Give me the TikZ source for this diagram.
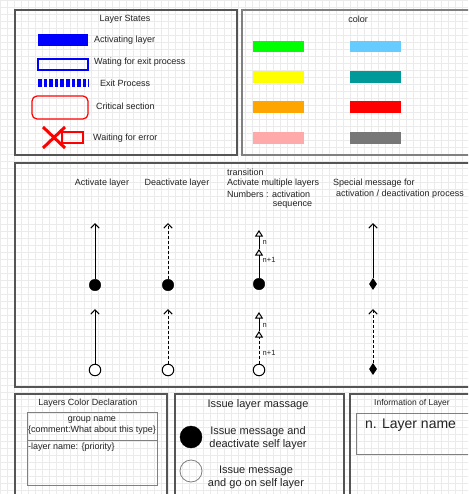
\documentclass[tikz,border=0pt]{standalone}
\usepackage{fontspec}
\setmainfont{Liberation Sans}
\usetikzlibrary{arrows.meta,shapes.geometric}
\definecolor{txt}{HTML}{222222}
\definecolor{frm}{HTML}{555555}
\definecolor{cgreen}{HTML}{00FF00}
\definecolor{cblue}{HTML}{66CCFF}
\definecolor{cyellow}{HTML}{FFFF00}
\definecolor{cteal}{HTML}{009999}
\definecolor{corange}{HTML}{FFA500}
\definecolor{cred}{HTML}{FF0000}
\definecolor{cpink}{HTML}{FFAAAA}
\definecolor{cgray}{HTML}{777777}
\begin{document}
\begin{tikzpicture}[x=1pt,y=-1pt,
  every node/.style={text=txt},
  frame/.style={draw=frm, line width=1.3pt},
  inbox/.style={draw=gray, line width=0.8pt},
  lbl/.style={inner sep=0pt, anchor=west, font=\fontsize{9}{10.5}\selectfont},
  ttl/.style={inner sep=0pt, font=\fontsize{9}{10.5}\selectfont},
  bar/.style={minimum width=51pt, minimum height=11.5pt, inner sep=0pt, draw=none},
  arr/.style={line width=1pt, -{Straight Barb[length=4.5pt,width=8.5pt,line width=1pt]}},
  dsh/.style={dash pattern=on 3pt off 2pt},
  tri/.style={line width=1pt, -{Triangle[open,length=6.5pt,width=8pt,line width=1pt]}},
  fdot/.style={circle, fill=black, draw=black, minimum size=11.5pt, inner sep=0pt},
  odot/.style={circle, fill=white, draw=black, line width=1pt, minimum size=11.5pt, inner sep=0pt},
  dia/.style={diamond, fill=black, minimum width=8pt, minimum height=12pt, inner sep=0pt},
  small/.style={inner sep=0pt, anchor=west, font=\fontsize{7.5}{9}\selectfont}
]
\useasboundingbox (0,0) rectangle (468,494);
\clip (0,0) rectangle (468,494);
% background grid
\foreach \i in {0,7,...,469} \draw[black!8, line width=0.4pt] (\i,0) -- (\i,494);
\foreach \j in {0,7,...,494} \draw[black!8, line width=0.4pt] (0,\j) -- (468,\j);

% ---------- Layer States ----------
\draw[frame] (15,10) rectangle (237,155);
\node[ttl] (lsT) at (125,19) {Layer States};
\node[bar, fill=blue, minimum width=50pt, minimum height=12pt] (s1) at (63,40) {};
\node[lbl] (s1l) at (94,40.5) {Activating layer};
\node[draw=blue, line width=1.2pt, minimum width=50pt, minimum height=11pt, inner sep=0pt] (s2) at (63,64.5) {};
\node[lbl] (s2l) at (94,62.5) {Wating for exit process};
\draw[blue, line width=8pt, dash pattern=on 3.6pt off 2pt] (38,83) -- (89,83);
\node[lbl] (s3l) at (100,83.5) {Exit Process};
\node[draw=red, line width=1.2pt, rounded corners=5pt, minimum width=56pt, minimum height=23pt, inner sep=0pt] (s4) at (60,107.5) {};
\node[lbl] (s4l) at (96,106) {Critical section};
\node[draw=red, line width=1.2pt, minimum width=21pt, minimum height=11pt, inner sep=0pt] (s5) at (72.5,137.5) {};
\draw[red, line width=3pt] (43,127) -- (65,148) (43,148) -- (65,127);
\node[lbl] (s5l) at (93,138) {Waiting for error};

% ---------- color ----------
\draw[frame, draw=gray] (242,10) rectangle (472,155);
\node[ttl] (cT) at (358,19) {color};
\node[bar, fill=cgreen] (c1) at (278.5,46.5) {};
\node[bar, fill=cblue] (c2) at (375.5,46.5) {};
\node[bar, fill=cyellow] (c3) at (278.5,77) {};
\node[bar, fill=cteal] (c4) at (375.5,77) {};
\node[bar, fill=corange] (c5) at (278.5,107) {};
\node[bar, fill=cred] (c6) at (375.5,107) {};
\node[bar, fill=cpink] (c7) at (278.5,138) {};
\node[bar, fill=cgray] (c8) at (375.5,138) {};

% ---------- transitions ----------
\draw[frame] (15,163) rectangle (472,387);
\node[ttl] (h1) at (102,183) {Activate layer};
\node[ttl] (h2) at (177,183) {Deactivate layer};
\node[lbl] (h3a) at (227,172) {transition};
\node[lbl] (h3b) at (227,183) {Activate multiple layers};
\node[lbl] (h3c) at (227,194) {Numbers : activation};
\node[ttl] (h3d) at (292.5,205) {sequence};
\node[lbl] (h4a) at (333,183) {Special message for};
\node[lbl] (h4b) at (336,194) {activation / deactivation process};

% activate
\node[fdot] (a1) at (95,285) {};
\coordinate (a1t) at (95,223);
\draw[arr] (a1) -- (a1t);
\node[odot] (a2) at (95,370) {};
\coordinate (a2t) at (95,309);
\draw[arr] (a2) -- (a2t);
% deactivate
\node[fdot] (d1) at (168,285) {};
\coordinate (d1t) at (168,223);
\draw[arr, dsh] (d1) -- (d1t);
\node[odot] (d2) at (168,370) {};
\coordinate (d2t) at (168,309);
\draw[arr, dsh] (d2) -- (d2t);
% multiple
\node[fdot] (m1) at (259,284) {};
\coordinate (m1m) at (259,249);
\coordinate (m1t) at (259,230);
\draw[tri] (m1) -- (m1m);
\draw[tri] (m1m) -- (m1t);
\node[small] (m1n) at (262.5,242) {n};
\node[small] (m1n1) at (262.5,260) {n+1};
\node[odot] (m2) at (259,370) {};
\coordinate (m2m) at (259,331);
\coordinate (m2t) at (259,312);
\draw[tri, dsh] (m2) -- (m2m);
\draw[tri] (m2m) -- (m2t);
\node[small] (m2n) at (262.5,325) {n};
\node[small] (m2n1) at (262.5,353) {n+1};
% special
\node[dia] (p1) at (373,284) {};
\coordinate (p1t) at (373,223);
\draw[arr] (p1) -- (p1t);
\node[dia] (p2) at (373,369) {};
\coordinate (p2t) at (373,309);
\draw[arr, dsh] (p2) -- (p2t);

% ---------- Layers Color Declaration ----------
\draw[frame] (15,394) rectangle (167,500);
\node[ttl] (lcT) at (88,403) {Layers Color Declaration};
\draw[inbox] (27,412) rectangle (157,485);
\draw[inbox] (27,440) -- (157,440);
\node[ttl] (g1) at (92,420) {group name};
\node[ttl] (g2) at (92,430.5) {\{comment:What about this type\}};
\node[lbl] (g3) at (28,447) {-layer name: \{priority\}};

% ---------- Issue layer massage ----------
\draw[frame] (175,394) rectangle (344,500);
\node[inner sep=0pt, font=\fontsize{11}{13}\selectfont] (iT) at (258,405) {Issue layer massage};
\node[circle, fill=black, draw=black, minimum size=22pt, inner sep=0pt] (i1) at (191,437) {};
\node[inner sep=0pt, align=center, font=\fontsize{11}{13}\selectfont] (i1l) at (258,438.5) {Issue message and\\deactivate self layer};
\node[circle, draw=gray, line width=0.8pt, minimum size=22pt, inner sep=0pt] (i2) at (191,471) {};
\node[inner sep=0pt, align=center, font=\fontsize{11}{13}\selectfont] (i2l) at (256,477) {Issue message\\and go on self layer};

% ---------- Information of Layer ----------
\draw[frame] (350,394) rectangle (472,500);
\node[ttl, font=\fontsize{8.5}{10}\selectfont] (infT) at (412,403) {Information of Layer};
\draw[inbox] (356,413) rectangle (472,454);
\node[inner sep=0pt, anchor=west, font=\fontsize{14}{16}\selectfont] (inf1) at (365,425) {n. Layer name};
\end{tikzpicture}
\end{document}
